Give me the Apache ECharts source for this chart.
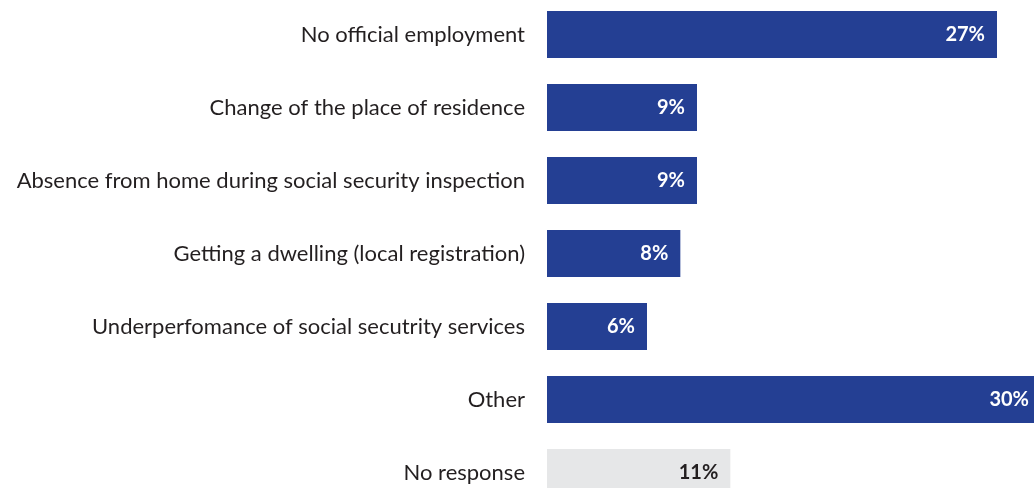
<!DOCTYPE html>
<html>
<head>
<meta charset="utf-8">
<script src="https://cdn.jsdelivr.net/npm/echarts@6/dist/echarts.min.js"></script>
<style>
  html, body { margin: 0; padding: 0; background: #ffffff; overflow: hidden; }
  /* the plot runs slightly past the window edges on the right and bottom */
  #chart { position: absolute; left: 0; top: -2px; width: 1047px; height: 511px; }
</style>
</head>
<body>
<div id="chart"></div>
<script>
// Reasons for problems with social security, share of respondents (%)
const categories = [
  'No official employment',
  'Change of the place of residence',
  'Absence from home during social security inspection',
  'Getting a dwelling (local registration)',
  'Underperfomance of social secutrity services',
  'Other',
  'No response'
];
const values = [27, 9, 9, 8, 6, 30, 11];
const valueLabels = ['27%', '9%', '9%', '8%', '6%', '30%', '11%'];

const MAIN_COLOR = '#243f93';
const NO_RESPONSE_COLOR = '#e6e7e8';
const FONT = 'Lato, "Open Sans", sans-serif';

const seriesData = values.map((v, i) => {
  const isNoResponse = categories[i] === 'No response';
  const item = {
    value: v,
    itemStyle: { color: isNoResponse ? NO_RESPONSE_COLOR : MAIN_COLOR },
    label: { color: isNoResponse ? '#231f20' : '#ffffff' }
  };
  if (v === 30) item.label.offset = [-6, 0];
  return item;
});

const chart = echarts.init(document.getElementById('chart'), null, { renderer: 'canvas' });
chart.setOption({
  animation: false,
  grid: { left: 547, right: 0, top: 0, bottom: 0, containLabel: false },
  xAxis: {
    type: 'value',
    min: 0,
    max: 30,
    show: false
  },
  yAxis: {
    type: 'category',
    inverse: true,
    data: categories,
    axisLine: { show: false },
    axisTick: { show: false },
    splitLine: { show: false },
    axisLabel: {
      margin: 22,
      color: '#231f20',
      fontFamily: FONT,
      fontSize: 22
    }
  },
  series: [{
    type: 'bar',
    data: seriesData,
    barWidth: 47,
    label: {
      show: true,
      position: 'insideRight',
      distance: 12,
      fontFamily: FONT,
      fontWeight: 'bold',
      fontSize: 20,
      formatter: p => valueLabels[p.dataIndex]
    }
  }]
});
</script>
</body>
</html>
